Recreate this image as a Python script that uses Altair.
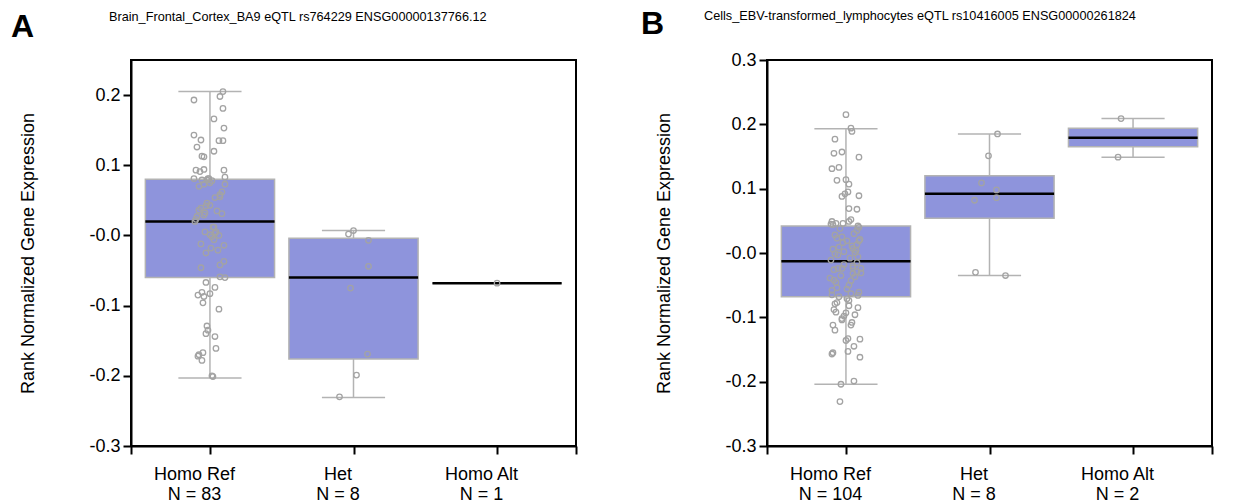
import altair as alt
import pandas as pd

FONT = "Liberation Sans"
groups = ["Homo Ref", "Het", "Homo Alt"]

# ---------------- Panel A ----------------
a_title = "Brain_Frontal_Cortex_BA9 eQTL rs764229 ENSG00000137766.12"
a_counts = [83, 8, 1]
a_q1 = [-0.060, -0.176, -0.068]
a_med = [0.020, -0.060, -0.068]
a_q3 = [0.080, -0.004, -0.068]
a_lo = [-0.203, -0.231, -0.068]
a_hi = [0.205, 0.007, -0.068]

a_ref_vals = [0.205, 0.198, 0.193, 0.181, 0.166, 0.153, 0.143, 0.136, 0.135, 0.135,
              0.126, 0.120, 0.113, 0.112, 0.093, 0.091, 0.094, 0.093, 0.081, 0.081,
              0.078, 0.083, 0.075, 0.070, 0.073, 0.073, 0.062, 0.055, 0.054, 0.039,
              0.042, 0.043, 0.035, 0.031, 0.027, 0.029, 0.020, 0.012, 0.005, 0.005,
              0.001, 0.000, -0.006, -0.012, -0.014, -0.018, -0.025, -0.021, -0.037, -0.042,
              -0.046, -0.059, -0.060, -0.067, -0.074, -0.081, -0.083, -0.085, -0.087, -0.096,
              -0.105, -0.129, -0.135, -0.140, -0.144, -0.161, -0.167, -0.170, -0.172, -0.178,
              -0.201, -0.200,
              0.079, 0.036, 0.046, 0.003, -0.002, 0.032, 0.058, 0.079, 0.023, 0.012, 0.081]
a_ref_jit = [13, 10, -16, 13, 4, 14, -16, -9, 9, 13,
             -13, 4, -8, -6, -14, -10, -6, 14, -16, -1,
             2, 15, 0, -11, -6, 15, 12, 10, 5, -9,
             -4, 0, 7, 12, -13, -6, -15, 3, -5, 6,
             0, 9, 4, -9, 14, 1, -4, 8, 14, 10,
             -9, 10, 15, -4, 5, -8, 0, -12, -6, -7,
             9, -3, -2, -4, 5, 6, -7, -11, -12, -8,
             3, 2,
             -3, -11, -3, 5, 2, -5, 10, -8, -14, 4, -2]
a_het_vals = [0.007, 0.002, -0.007, -0.044, -0.075, -0.169, -0.199, -0.230]
a_het_jit = [0, -5, 15, 15, -3, 14, 3, -14]
a_alt_vals = [-0.068]
a_alt_jit = [0]

# ---------------- Panel B ----------------
b_title = "Cells_EBV-transformed_lymphocytes eQTL rs10416005 ENSG00000261824"
b_counts = [104, 8, 2]
b_q1 = [-0.068, 0.054, 0.165]
b_med = [-0.013, 0.092, 0.179]
b_q3 = [0.042, 0.120, 0.194]
b_lo = [-0.204, -0.035, 0.149]
b_hi = [0.193, 0.185, 0.209]

b_ref_vals = [0.215, 0.194, 0.189, 0.177, 0.155, 0.157, 0.149, 0.131, 0.133, 0.113,
              0.114, 0.107, 0.095, 0.092, 0.088, 0.089, 0.069, 0.068, 0.049, 0.046,
              0.046, 0.052, 0.049, 0.044, 0.040, 0.035, 0.023, 0.025, 0.019, 0.019,
              0.013, 0.007, 0.009, -0.001, 0.002, 0.000, -0.006, -0.024, -0.024, -0.023,
              -0.024, -0.029, -0.039, -0.042, -0.043, -0.032, -0.054, -0.056, -0.063, -0.065,
              -0.066, -0.074, -0.079, -0.082, -0.088, -0.092, -0.093, -0.098, -0.096, -0.104,
              -0.112, -0.112, -0.133, -0.136, -0.134, -0.155, -0.157, -0.153, -0.162, -0.204,
              -0.199, -0.231,
              0.045, 0.042, 0.038, 0.030, 0.028, 0.021, 0.016, 0.011, 0.006, 0.004,
              -0.003, -0.008, -0.011, -0.015, -0.018, -0.020, -0.026, -0.031, -0.035, -0.037,
              -0.046, -0.050, -0.058, -0.061, -0.068, -0.071, -0.077, -0.085, -0.102, -0.108,
              -0.120, -0.145]
b_ref_jit = [0, 5, 6, -11, -12, -4, 13, -14, -7, -9,
             0, 3, 2, -1, -4, 13, 3, 11, -14, -10,
             -3, 5, 3, -13, 13, 11, -9, -4, 1, 13,
             11, 7, -7, -11, -2, 9, 12, -8, -4, 7,
             15, 11, -16, -12, 5, 7, -9, 1, 5, -14,
             12, 3, -11, 3, -12, -10, 0, -2, 9, -4,
             -13, 5, 2, 0, 14, -13, -14, 2, 14, -5,
             8, -6,
             -15, 12, -6, 8, -11, 14, -3, 6, -13, 10,
             -8, 4, -15, 11, -2, 7, -12, 15, -5, 9,
             -10, 3, -14, 13, -7, 1, -9, 12, -4, 6,
             -11, 8]
b_het_vals = [0.185, 0.151, 0.109, 0.098, 0.082, 0.086, -0.030, -0.035]
b_het_jit = [8, -1, -8, 7, -15, 7, -14, 16]
b_alt_vals = [0.209, 0.149]
b_alt_jit = [-12, -15]

BOX_FILL = "#8e94dc"
GREY = "#b3b3b3"
PT_GREY = "#a3a3a3"
W, H = 445, 386
XDOM = [-0.55, 2.55]
STEP = W / (XDOM[1] - XDOM[0])


def y_label_expr():
    return ("abs(datum.value) < 1e-9 ? '-0.0' : (datum.value < 0 ? '-' + "
            "format(-datum.value, '.1f') : format(datum.value, '.1f'))")


def x_label_expr(counts):
    arr = ",".join("['%s','N = %d']" % (g, c) for g, c in zip(groups, counts))
    return ("(datum.value < -0.1 || datum.value > 2.1) ? '' : [%s][round(datum.value)]" % arr)


def panel(title, title_x, title_y, letter, letter_x, letter_y, counts, q1, med, q3, lo, hi,
          pts, ydom, yticks):
    box = pd.DataFrame({"idx": [0, 1, 2], "q1": q1, "med": med, "q3": q3, "lo": lo, "hi": hi})
    rows = []
    for i, (vals, jit) in enumerate(pts):
        for v, j in zip(vals, jit):
            rows.append({"idx": i, "v": v, "jit": j})
    pdf = pd.DataFrame(rows)

    xscale = alt.Scale(domain=XDOM, nice=False, zero=False)
    yscale = alt.Scale(domain=ydom, nice=False, zero=False)
    xaxis = alt.Axis(values=[XDOM[0], 0, 1, 2, XDOM[1]], labelExpr=x_label_expr(counts),
                     title=None, grid=False, labelFontSize=18, labelLineHeight=20,
                     labelPadding=11, labelOffset=-16, tickSize=8, labelColor="black")
    yaxis = alt.Axis(values=yticks, labelExpr=y_label_expr(), title="Rank Normalized Gene Expression",
                     grid=False, labelFontSize=18, titleFontSize=18, titleFontWeight="normal",
                     titlePadding=51, tickSize=8, labelPadding=3, labelColor="black",
                     titleColor="black")

    base_box = alt.Chart(box).transform_calculate(
        bl="datum.idx - 0.45", br="datum.idx + 0.45",
        cl="datum.idx - 0.22", cr="datum.idx + 0.22")

    whisker = base_box.mark_rule(color=GREY, strokeWidth=1.5).encode(
        x=alt.X("idx:Q", scale=xscale, axis=xaxis),
        y=alt.Y("lo:Q", scale=yscale, axis=yaxis),
        y2="hi:Q")
    cap_hi = base_box.mark_rule(color=GREY, strokeWidth=1.5).encode(
        x=alt.X("cl:Q", scale=xscale), x2="cr:Q", y=alt.Y("hi:Q", scale=yscale))
    cap_lo = base_box.mark_rule(color=GREY, strokeWidth=1.5).encode(
        x=alt.X("cl:Q", scale=xscale), x2="cr:Q", y=alt.Y("lo:Q", scale=yscale))
    boxes = base_box.mark_rect(fill=BOX_FILL, stroke=GREY, strokeWidth=1.5).encode(
        x=alt.X("bl:Q", scale=xscale), x2="br:Q",
        y=alt.Y("q1:Q", scale=yscale), y2="q3:Q")
    median = base_box.mark_rule(color="black", strokeWidth=2.5).encode(
        x=alt.X("bl:Q", scale=xscale), x2="br:Q", y=alt.Y("med:Q", scale=yscale))

    points = alt.Chart(pdf).transform_calculate(
        xp="datum.idx + datum.jit / %f" % STEP
    ).mark_point(shape="circle", filled=False, color=PT_GREY, size=30, strokeWidth=1.3,
                 opacity=1).encode(
        x=alt.X("xp:Q", scale=xscale), y=alt.Y("v:Q", scale=yscale))

    letter_mark = alt.Chart(pd.DataFrame({"t": [letter]})).mark_text(
        font=FONT, fontSize=32, fontWeight="bold", align="left", baseline="alphabetic",
        color="black").encode(text="t:N", x=alt.value(letter_x), y=alt.value(letter_y))

    title_mark = alt.Chart(pd.DataFrame({"t": [title]})).mark_text(
        font=FONT, fontSize=12.7, align="left", baseline="middle",
        color="black").encode(text="t:N", x=alt.value(title_x), y=alt.value(title_y))

    return alt.layer(whisker, cap_hi, cap_lo, boxes, median, points,
                     letter_mark, title_mark).properties(width=W, height=H)


pA = panel(a_title, -22, -43, "A", -120, -23, a_counts, a_q1, a_med, a_q3, a_lo, a_hi,
           [(a_ref_vals, a_ref_jit), (a_het_vals, a_het_jit), (a_alt_vals, a_alt_jit)],
           [-0.3, 0.25], [-0.3, -0.2, -0.1, 0.0, 0.1, 0.2])
pB = panel(b_title, -63, -44, "B", -126, -26, b_counts, b_q1, b_med, b_q3, b_lo, b_hi,
           [(b_ref_vals, b_ref_jit), (b_het_vals, b_het_jit), (b_alt_vals, b_alt_jit)],
           [-0.3, 0.3], [-0.3, -0.2, -0.1, 0.0, 0.1, 0.2, 0.3])

chart = alt.hconcat(pA, pB, spacing=62).properties(
    padding={"left": 10, "top": 7, "right": 5, "bottom": 5},
    background="white"
).configure_view(stroke="#000000", strokeWidth=2, strokeOpacity=1).configure_axis(
    domainColor="black", domainWidth=2, tickColor="black", tickWidth=2,
    labelFont=FONT, titleFont=FONT
)

chart.save("out.html", embed_options={"renderer": "svg", "actions": False})
